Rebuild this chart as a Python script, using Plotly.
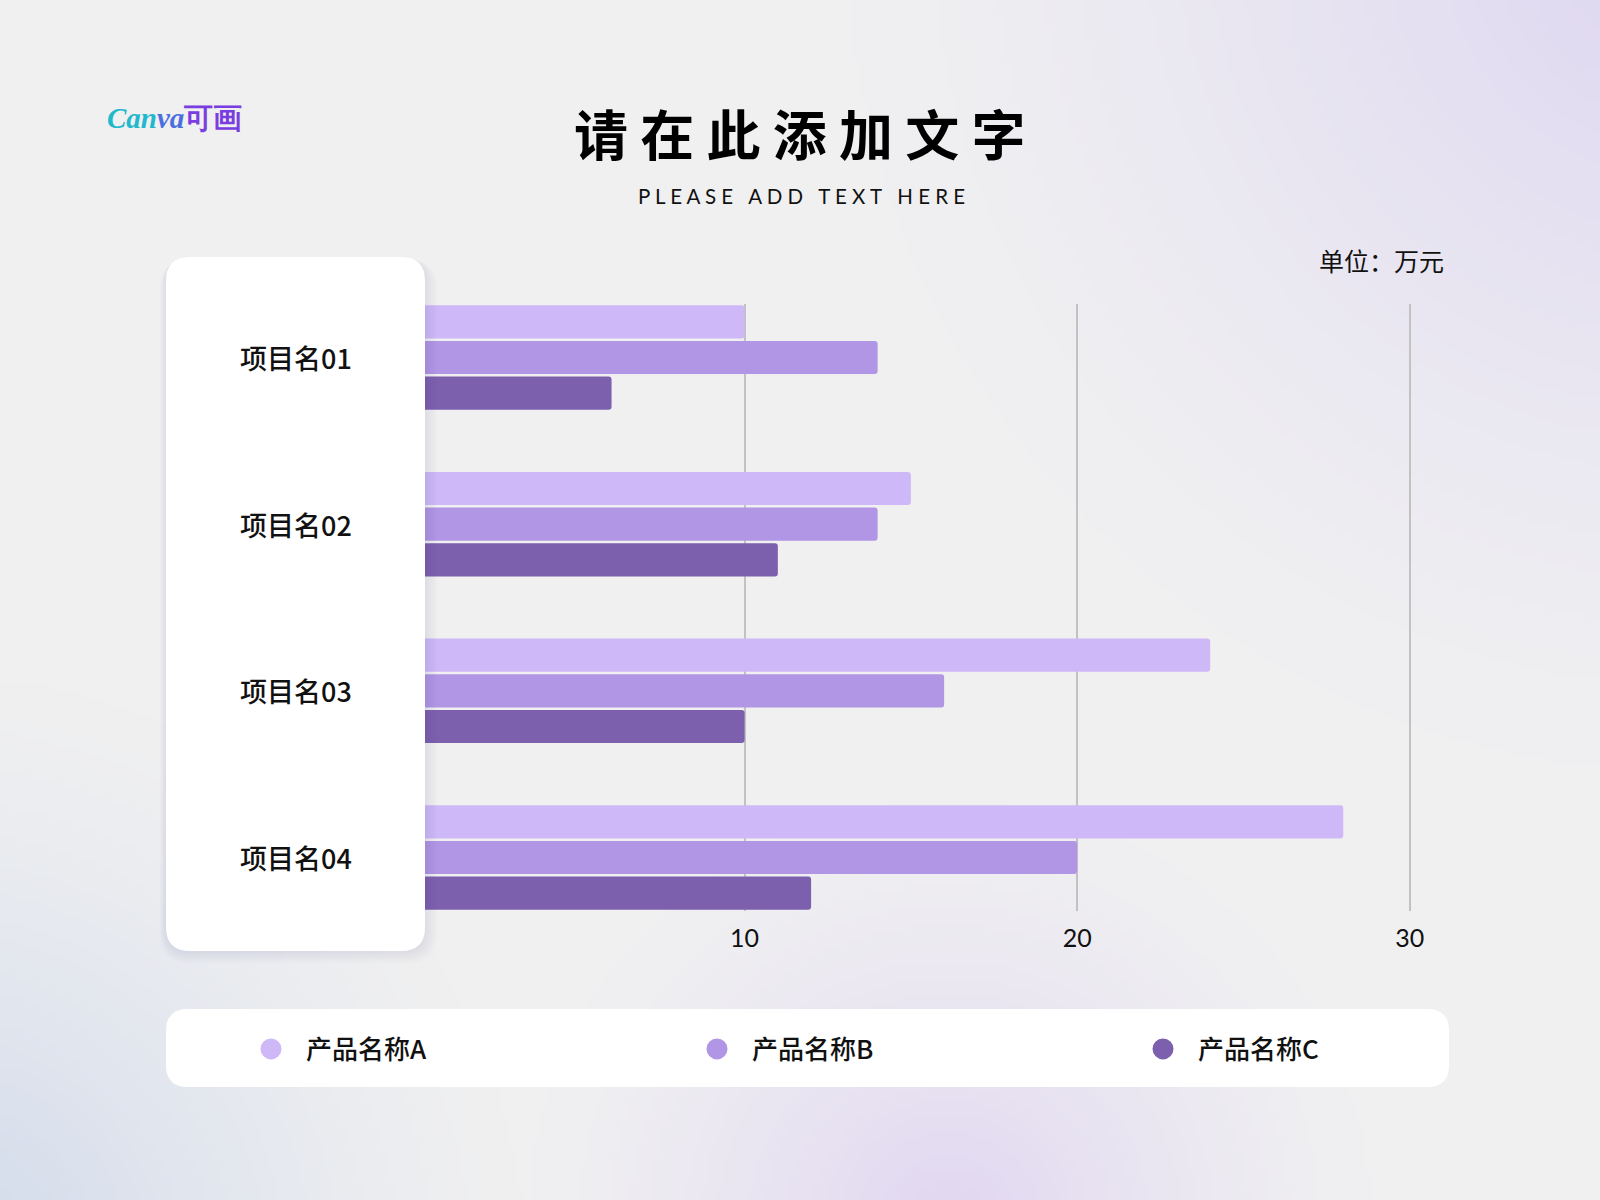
import base64
import struct
import zlib

import numpy as np
import plotly.graph_objects as go

# ---------------- data ----------------
categories = ["项目名01", "项目名02", "项目名03", "项目名04"]
series_names = ["产品名称A", "产品名称B", "产品名称C"]
values_a = [10, 15, 24, 28]
values_b = [14, 14, 16, 20]
values_c = [6, 11, 10, 12]
x_tick_values = [10, 20, 30]
x_tick_labels = ["10", "20", "30"]

colors = ["#cfb8f7", "#b096e4", "#7c5fad"]

# ---------------- geometry (pixels) ----------------
W, H = 1600, 1200
X0, X1 = 412, 1443
Y0, Y1 = 304, 911
PW, PH = X1 - X0, Y1 - Y0


def px(x):
    return (x - X0) / PW


def py(y):
    return 1 - (y - Y0) / PH


def rounded_rect(x0, y0, x1, y1, r):
    a0, a1 = px(x0), px(x1)
    b0, b1 = py(y0), py(y1)  # b0 top, b1 bottom
    rx, ry = r / PW, r / PH
    return (
        f"M {a0 + rx},{b0} L {a1 - rx},{b0} Q {a1},{b0} {a1},{b0 - ry} "
        f"L {a1},{b1 + ry} Q {a1},{b1} {a1 - rx},{b1} "
        f"L {a0 + rx},{b1} Q {a0},{b1} {a0},{b1 + ry} "
        f"L {a0},{b0 - ry} Q {a0},{b0} {a0 + rx},{b0} Z"
    )


# ---------------- soft gradient background image ----------------
def make_png(arr):
    h, w, _ = arr.shape
    raw = b"".join(b"\x00" + arr[i].tobytes() for i in range(h))

    def chunk(t, d):
        c = struct.pack(">I", len(d)) + t + d
        return c + struct.pack(">I", zlib.crc32(t + d) & 0xFFFFFFFF)

    return (
        b"\x89PNG\r\n\x1a\n"
        + chunk(b"IHDR", struct.pack(">IIBBBBB", w, h, 8, 2, 0, 0, 0))
        + chunk(b"IDAT", zlib.compress(raw, 9))
        + chunk(b"IEND", b"")
    )


gw, gh = 200, 150
gx, gy = np.meshgrid(np.linspace(0, W, gw), np.linspace(0, H, gh))
base = np.array([240.0, 240.0, 241.0])
img = np.zeros((gh, gw, 3)) + base
blobs = [
    ((1700, -80), 850, (221, 213, 242)),
    ((-80, 1280), 600, (207, 217, 235)),
    ((950, 1230), 420, (225, 215, 242)),
]
for (cx, cy), r, col in blobs:
    d = np.sqrt((gx - cx) ** 2 + (gy - cy) ** 2)
    w = np.clip(1 - d / r, 0, 1) ** 1.3
    img += w[..., None] * (np.array(col, dtype=float) - base)
img = np.clip(img, 0, 255).astype(np.uint8)
bg_uri = "data:image/png;base64," + base64.b64encode(make_png(img)).decode()

# ---------------- figure ----------------
fig = go.Figure()
for name, vals, col in zip(series_names, [values_a, values_b, values_c], colors):
    fig.add_trace(
        go.Bar(
            y=categories,
            x=vals,
            orientation="h",
            name=name,
            marker=dict(color=col, cornerradius=3, line=dict(width=0)),
            showlegend=False,
            hoverinfo="x+name",
        )
    )
for name, col in zip(series_names, colors):
    fig.add_trace(
        go.Scatter(
            x=[None],
            y=[None],
            mode="markers",
            name=name,
            marker=dict(symbol="circle", size=16, color=col, line=dict(color=col, width=5)),
            showlegend=True,
        )
    )

shapes = []
# legend card
shapes.append(dict(type="path", xref="paper", yref="paper", layer="below",
                   path=rounded_rect(166, 1009, 1449, 1087, 22),
                   fillcolor="#ffffff", line=dict(width=0)))
# left panel shadow
for k in range(1, 7):
    shapes.append(dict(type="path", xref="paper", yref="paper", layer="above",
                       path=rounded_rect(166 - k, 257 + 2, 425 + 2 * k, 951 + 2 * k, 24 + k),
                       fillcolor="rgba(70,70,100,0.016)", line=dict(width=0)))
# left panel
shapes.append(dict(type="path", xref="paper", yref="paper", layer="above",
                   path=rounded_rect(166, 257, 425, 951, 24),
                   fillcolor="#ffffff", line=dict(width=0)))

annotations = []
for cat in categories:
    annotations.append(dict(x=px(296), xref="paper", y=cat, yref="y", text=cat,
                            showarrow=False, xanchor="center", yanchor="middle",
                            font=dict(family="Noto Sans CJK SC", size=27, color="#111111", weight=500)))

annotations.append(dict(x=px(800), y=py(133), xref="paper", yref="paper",
                        text="请 在 此 添 加 文 字", showarrow=False,
                        xanchor="center", yanchor="middle",
                        font=dict(family="Noto Sans CJK SC", size=54, color="#000000", weight=700)))

sub = " \u00a0\u00a0".join(" ".join(list(wd)) for wd in "PLEASE ADD TEXT HERE".split())
annotations.append(dict(x=px(801), y=py(196), xref="paper", yref="paper",
                        text=sub, showarrow=False, xanchor="center", yanchor="middle",
                        font=dict(family="Lato", size=20.5, color="#111111")))

annotations.append(dict(x=px(1446), y=py(260), xref="paper", yref="paper",
                        text="单位：万元", showarrow=False, xanchor="right", yanchor="middle",
                        font=dict(family="Noto Sans CJK SC", size=25, color="#111111")))

annotations.append(dict(x=px(105), y=py(118), xref="paper", yref="paper",
                        text='<i><b><span style="color:#1fb8cc">Can</span>'
                             '<span style="color:#4c6fe0">va</span></b></i>'
                             '<b><span style="color:#7a3ddf">可画</span></b>',
                        showarrow=False, xanchor="left", yanchor="middle",
                        font=dict(family="Liberation Serif", size=29)))

fig.update_layout(
    width=W,
    height=H,
    margin=dict(l=X0, r=W - X1, t=Y0, b=H - Y1, pad=0, autoexpand=False),
    paper_bgcolor="#f0f0f1",
    plot_bgcolor="rgba(0,0,0,0)",
    barmode="group",
    bargap=0.358,
    bargroupgap=0.07,
    xaxis=dict(
        range=[0, 31],
        tickvals=x_tick_values,
        ticktext=x_tick_labels,
        showgrid=True,
        gridcolor="#c2c2c2",
        gridwidth=1.5,
        zeroline=False,
        showline=False,
        ticks="",
        ticklabelstandoff=10,
        tickfont=dict(family="Lato", size=25, color="#111111"),
    ),
    yaxis=dict(
        type="category",
        categoryorder="array",
        categoryarray=categories,
        range=[3.321, -0.321],
        showticklabels=False,
        showgrid=False,
        zeroline=False,
        showline=False,
    ),
    legend=dict(
        orientation="h",
        xref="paper",
        yref="paper",
        x=px(236),
        y=py(1049),
        xanchor="left",
        yanchor="middle",
        itemwidth=60,
        entrywidth=371,
        entrywidthmode="pixels",
        bgcolor="rgba(0,0,0,0)",
        borderwidth=0,
        font=dict(family="Noto Sans CJK SC", size=26, color="#111111", weight=500),
    ),
    shapes=shapes,
    annotations=annotations,
    images=[dict(source=bg_uri, xref="paper", yref="paper",
                 x=px(0), y=py(0), sizex=W / PW, sizey=H / PH,
                 xanchor="left", yanchor="top", sizing="stretch", layer="below")],
    showlegend=True,
)

fig.write_html("out.html", config={"displayModeBar": False},
               post_script="document.body.style.margin='0';")
